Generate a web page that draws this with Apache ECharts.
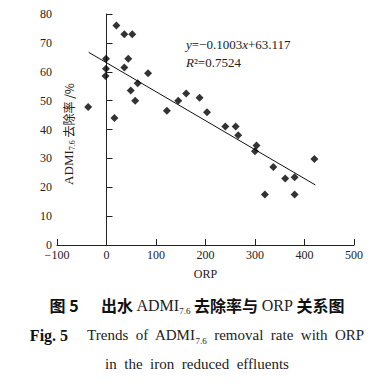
<!DOCTYPE html>
<html>
<head>
<meta charset="utf-8">
<script src="https://cdn.jsdelivr.net/npm/echarts@6/dist/echarts.min.js"></script>
<style>html,body{margin:0;padding:0;background:#fff;}#c{width:384px;height:388px;}</style>
</head>
<body>
<div id="c"></div>
<script>
// ORP values (mV) and ADMI7.6 removal rate (%)
const orpValues = [-37, 20, -1, -1, -2, 16, 36, 52, 44, 36, 49, 63, 58, 84, 122, 145, 161, 188, 203, 240, 261, 266, 300, 303, 337, 320, 361, 380, 380, 420];
const removalRates = [47.8, 76, 64.5, 61, 58.5, 44, 73, 73, 64.5, 61.5, 53.5, 56, 50, 59.5, 46.5, 50, 52.5, 51, 46, 41, 41, 38, 32.5, 34.5, 27, 17.5, 23, 23.5, 17.5, 29.8];
// regression: y = slope*x + intercept, drawn over this ORP range
const fitSlope = -0.1003;
const fitIntercept = 63.117;
const fitRange = [-36, 422];
const xTicks = [-100, 500, 100];
const yTicks = [0, 80, 10];

const serif = '"Liberation Serif","DejaVu Serif",serif';
const cjk = '"Noto Sans CJK SC",sans-serif';

const points = orpValues.map((x, i) => [x, removalRates[i]]);
const fitLine = fitRange.map(x => [x, fitSlope * x + fitIntercept]);

const chart = echarts.init(document.getElementById('c'), null, {renderer: 'svg'});
chart.setOption({
  animation: false,
  grid: {left: 57, right: 30, top: 14, bottom: 143},
  xAxis: {
    type: 'value', min: xTicks[0], max: xTicks[1], interval: xTicks[2],
    name: 'ORP', nameLocation: 'middle', nameGap: 23,
    nameTextStyle: {fontFamily: serif, fontSize: 12, color: '#222'},
    axisLine: {onZero: true, lineStyle: {color: '#222', width: 1}},
    axisTick: {inside: true, length: 6, lineStyle: {color: '#222'}},
    axisLabel: {fontFamily: serif, fontSize: 12, color: '#222', margin: 4,
      formatter: v => String(v).replace('-', '\u2212')},
    splitLine: {show: false}
  },
  yAxis: {
    type: 'value', min: yTicks[0], max: yTicks[1], interval: yTicks[2],
    axisLine: {onZero: true, lineStyle: {color: '#222', width: 1}},
    axisTick: {inside: true, length: 6, lineStyle: {color: '#222'}},
    axisLabel: {fontFamily: serif, fontSize: 12, color: '#222', margin: 5},
    splitLine: {show: false}
  },
  series: [
    {type: 'scatter', data: points, symbol: 'diamond', symbolSize: 8,
     itemStyle: {color: '#000'}, z: 3},
    {type: 'line', data: fitLine, showSymbol: false, symbol: 'none',
     lineStyle: {color: '#111', width: 1}, z: 2}
  ],
  graphic: [
    {type: 'text', left: 186, top: 38, style: {
      text: '{i|y}{n|=\u22120.1003}{i|x}{n|+63.117}',
      rich: {
        i: {fontFamily: serif, fontStyle: 'italic', fontSize: 13, fill: '#222'},
        n: {fontFamily: serif, fontSize: 13, fill: '#222'}
      }}},
    {type: 'text', left: 186, top: 56, style: {
      text: '{i|R}{n|\u00b2=0.7524}',
      rich: {
        i: {fontFamily: serif, fontStyle: 'italic', fontSize: 13, fill: '#222'},
        n: {fontFamily: serif, fontSize: 13, fill: '#222'}
      }}},
    {type: 'text', x: 68, y: 134, rotation: Math.PI / 2, style: {
      text: '{a|ADMI}{s|7.6}{c| 去除率 /%}',
      align: 'center', verticalAlign: 'middle',
      rich: {
        a: {fontFamily: serif, fontSize: 13, fill: '#222', lineHeight: 16, verticalAlign: 'middle'},
        s: {fontFamily: serif, fontSize: 8, fill: '#222', lineHeight: 16, verticalAlign: 'bottom'},
        c: {fontFamily: cjk, fontSize: 12, fill: '#222', lineHeight: 16, verticalAlign: 'middle'}
      }}},
    {type: 'text', x: 197, y: 305, style: {
      text: '{b|图 5}{g|     }{h|出水 }{a|ADMI}{s|7.6}{h| 去除率与 }{a|ORP}{h| 关系图}',
      align: 'center', verticalAlign: 'middle',
      rich: {
        b: {fontFamily: cjk, fontWeight: 'bold', fontSize: 16, fill: '#111', lineHeight: 20, verticalAlign: 'middle'},
        g: {fontSize: 16, lineHeight: 20},
        h: {fontFamily: cjk, fontWeight: 'bold', fontSize: 16, fill: '#111', lineHeight: 20, verticalAlign: 'middle'},
        a: {fontFamily: serif, fontSize: 16, fill: '#222', lineHeight: 20, verticalAlign: 'middle'},
        s: {fontFamily: serif, fontSize: 9, fill: '#222', lineHeight: 20, verticalAlign: 'bottom'}
      }}},
    {type: 'text', x: 197, y: 335, style: {
      text: '{b|Fig. 5}{n|     Trends  of  ADMI}{s|7.6}{n|  removal  rate  with  ORP}',
      align: 'center', verticalAlign: 'middle',
      rich: {
        b: {fontFamily: serif, fontWeight: 'bold', fontSize: 16, fill: '#111', lineHeight: 20, verticalAlign: 'middle'},
        n: {fontFamily: serif, fontSize: 15, fill: '#222', lineHeight: 20, verticalAlign: 'middle'},
        s: {fontFamily: serif, fontSize: 9, fill: '#222', lineHeight: 20, verticalAlign: 'bottom'}
      }}},
    {type: 'text', x: 197, y: 364, style: {
      text: 'in  the  iron  reduced  effluents', align: 'center', verticalAlign: 'middle',
      fontFamily: serif, fontSize: 15, fill: '#222'}}
  ]
});
</script>
</body>
</html>
